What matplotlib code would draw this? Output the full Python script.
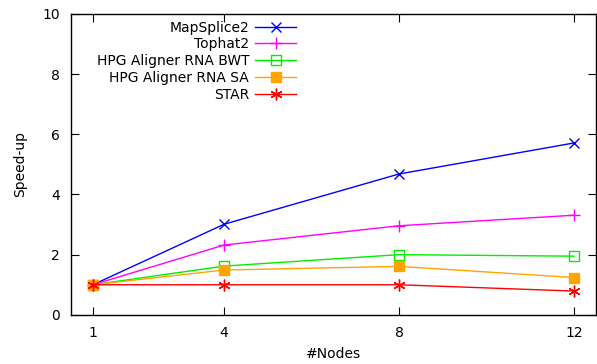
import matplotlib
matplotlib.use("Agg")
import matplotlib.pyplot as plt

nodes = [1, 4, 8, 12]
mapsplice2 = [1.0, 3.01, 4.68, 5.71]
tophat2 = [1.0, 2.32, 2.96, 3.31]
hpg_bwt = [1.0, 1.62, 2.0, 1.95]
hpg_sa = [1.0, 1.49, 1.61, 1.24]
star = [1.0, 1.0, 1.0, 0.79]

series = [
    ("MapSplice2", mapsplice2, "#0000ff", dict(marker="x", ms=7.5, mew=1)),
    ("Tophat2", tophat2, "#ff00ff", dict(marker="+", ms=9, mew=1)),
    ("HPG Aligner RNA BWT", hpg_bwt, "#00ee00", dict(marker="s", ms=7.5, mew=1, mfc="none")),
    ("HPG Aligner RNA SA", hpg_sa, "#ffa500", dict(marker="s", ms=7.5, mew=1)),
    ("STAR", star, "#ff0000", dict(marker=(6, 2, 0), ms=8.5, mew=1)),
]

fig = plt.figure(figsize=(5.97, 3.64), dpi=100)
ax = fig.add_axes([0.119, 0.135, 0.879, 0.827])

for name, vals, col, mk in series:
    ax.plot(nodes, vals, color=col, lw=1, label=name, **mk)

ax.set_xlim(0.5, 12.5)
ax.set_ylim(0, 10)
ax.set_xticks(nodes)
ax.set_yticks([0, 2, 4, 6, 8, 10])
ax.tick_params(direction="in", length=6, top=True, right=True, labelsize=10, pad=8)
ax.set_xlabel("#Nodes", fontsize=10, labelpad=5)
ax.set_ylabel("Speed-up", fontsize=10, labelpad=11)
for s in ax.spines.values():
    s.set_linewidth(1)

ax.legend(loc="upper left", bbox_to_anchor=(0.03, 1.01), frameon=False, markerfirst=False,
          fontsize=10, handlelength=3, handletextpad=0.4, labelspacing=0.2, borderaxespad=0.3)

fig.savefig("out.png", dpi=100)
